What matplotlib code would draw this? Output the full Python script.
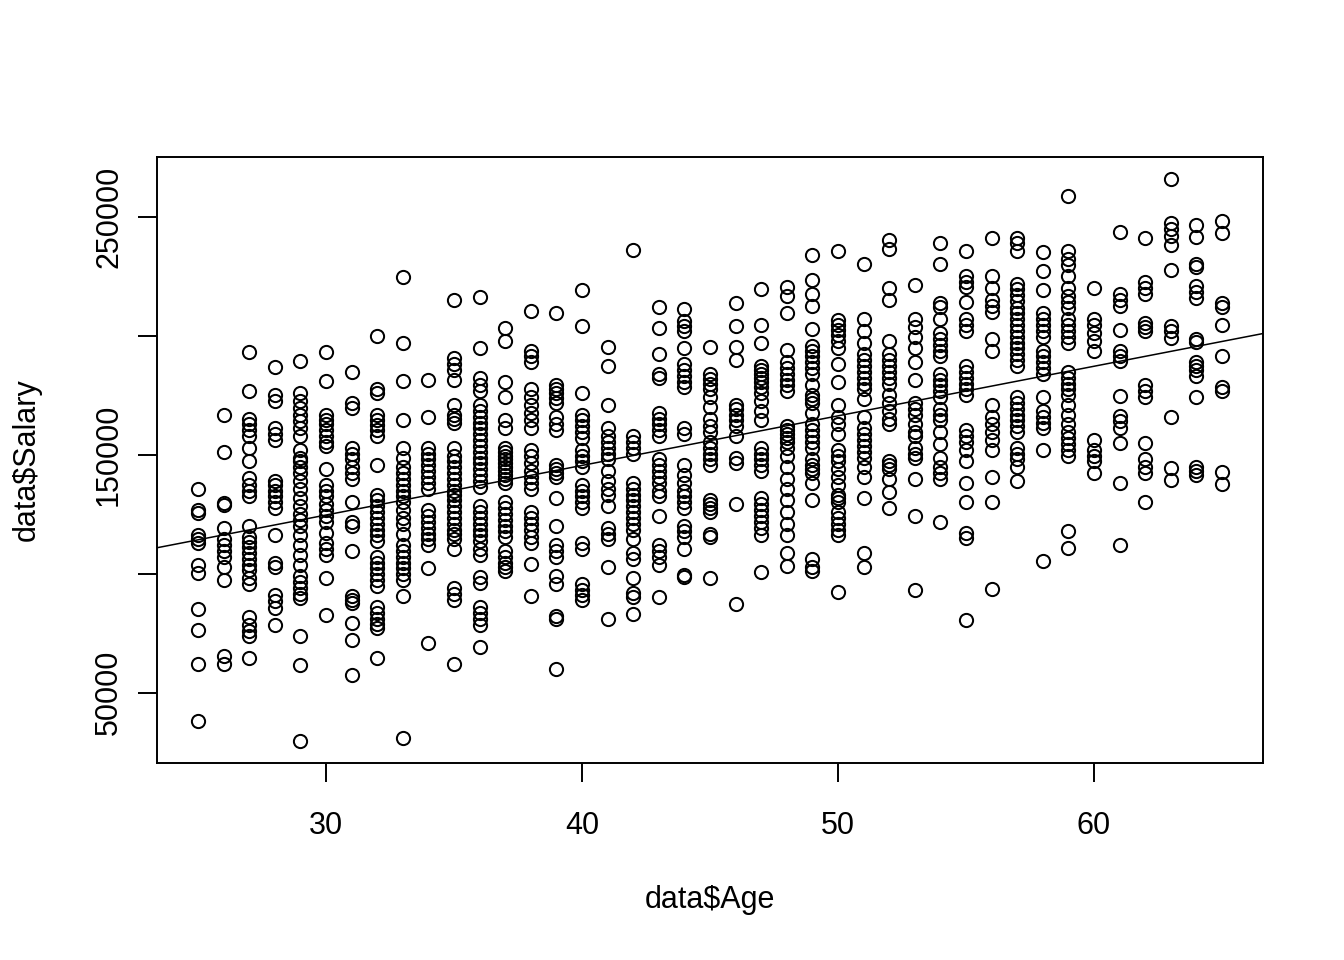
import numpy as np
import matplotlib.pyplot as plt

plt.rcParams['font.family'] = ['Liberation Sans', 'DejaVu Sans']

# salary values (in thousands), one list per age
sal_25 = [135.7, 126.8, 125.5, 116.1, 114.5, 112.9, 103.5, 100.3, 85.0, 76.5, 62.0, 38.0]
sal_26 = [166.9, 151.4, 129.7, 128.9, 119.4, 114.5, 112.0, 109.6, 107.1, 103.0, 97.5, 65.5, 62.0]
sal_27 = [193.5, 176.7, 165.3, 162.8, 160.4, 157.9, 153.0, 147.3, 140.2, 137.4, 135.0, 132.5,
          120.2, 115.3, 113.3, 111.2, 108.8, 106.3, 103.8, 101.4, 98.1, 95.7, 81.8, 78.4, 76.0,
          73.8, 64.5]
sal_28 = [187.0, 175.1, 172.6, 161.2, 158.7, 156.3, 139.1, 137.4, 135.0, 132.5, 130.1, 127.6,
          116.1, 104.7, 103.0, 91.0, 88.5, 85.5, 78.5]
sal_29 = [189.3, 175.9, 172.6, 169.7, 166.9, 164.1, 161.2, 157.9, 152.2, 148.9, 147.3, 144.8,
          142.3, 139.1, 135.8, 131.7, 128.4, 125.1, 122.7, 120.2, 116.1, 112.0, 107.9, 103.8,
          98.9, 96.5, 94.0, 91.6, 89.9, 73.8, 61.6, 29.8]
sal_30 = [193.5, 181.2, 166.9, 164.8, 162.8, 160.4, 157.9, 155.4, 153.8, 144.0, 137.4, 135.0,
          132.5, 129.2, 126.8, 124.3, 121.9, 117.0, 112.9, 110.4, 107.9, 98.2, 82.6]
sal_31 = [185.0, 171.8, 169.7, 153.0, 150.5, 148.1, 144.8, 142.3, 139.9, 130.1, 121.9, 120.2,
          109.6, 90.5, 89.0, 87.5, 79.3, 72.1, 57.4]
sal_32 = [200.0, 177.6, 175.9, 166.9, 164.8, 162.5, 160.4, 157.9, 145.6, 133.3, 130.9, 128.4,
          126.0, 123.5, 121.0, 118.6, 116.1, 113.7, 107.1, 104.7, 102.2, 99.8, 97.3, 94.9, 86.0,
          83.5, 81.0, 79.0, 77.0, 64.5]
sal_33 = [225.0, 197.0, 181.0, 164.5, 153.0, 148.9, 144.8, 142.3, 139.9, 137.4, 135.0, 132.5,
          130.1, 126.8, 123.5, 121.0, 116.9, 112.0, 109.6, 107.1, 104.7, 102.2, 99.8, 97.3, 90.6,
          31.0]
sal_34 = [181.5, 165.8, 153.0, 150.5, 148.1, 145.6, 143.2, 140.7, 138.2, 135.8, 126.8, 124.3,
          121.9, 119.4, 116.9, 114.5, 112.0, 102.4, 70.8]
sal_35 = [215.0, 190.7, 188.2, 185.8, 181.7, 171.0, 166.9, 165.3, 163.6, 153.0, 149.7, 147.3,
          144.8, 142.3, 139.9, 137.4, 135.0, 133.3, 130.9, 128.4, 126.0, 123.5, 121.0, 118.6,
          116.9, 114.5, 110.4, 94.0, 91.5, 89.0, 62.0]
sal_36 = [216.5, 194.8, 182.5, 179.5, 176.7, 171.0, 168.5, 166.1, 163.6, 161.2, 158.7, 156.3,
          153.8, 151.4, 148.9, 146.4, 144.0, 141.5, 139.1, 136.6, 128.4, 126.0, 123.5, 121.0,
          118.6, 116.1, 113.7, 110.4, 107.9, 98.5, 96.0, 86.0, 83.5, 81.0, 78.5, 69.2]
sal_37 = [203.5, 198.0, 180.8, 174.3, 164.5, 161.2, 153.0, 151.4, 149.7, 148.1, 146.4, 144.8,
          143.2, 141.5, 139.9, 138.2, 130.1, 127.6, 125.1, 122.7, 120.2, 117.8, 115.3, 109.6,
          107.1, 104.7, 103.0, 101.0]
sal_38 = [210.6, 193.9, 191.5, 189.0, 177.6, 174.3, 171.0, 167.7, 164.8, 161.5, 152.2, 149.7,
          146.4, 143.2, 140.7, 138.2, 135.8, 126.0, 123.5, 121.0, 118.6, 115.3, 112.9, 104.0, 90.6]
sal_39 = [209.8, 179.5, 177.6, 175.9, 174.0, 171.8, 166.1, 162.8, 160.4, 145.6, 144.0, 142.3,
          140.7, 131.7, 120.2, 112.0, 109.6, 107.1, 99.0, 95.5, 82.3, 81.0, 59.9]
sal_40 = [219.5, 204.3, 176.2, 166.9, 164.5, 162.0, 159.5, 157.1, 152.2, 149.7, 147.3, 144.8,
          137.4, 135.0, 132.5, 130.1, 127.6, 112.9, 110.4, 95.5, 93.0, 91.0, 89.0]
sal_41 = [195.5, 187.4, 171.0, 161.2, 157.9, 155.4, 153.0, 150.5, 148.1, 143.2, 139.1, 135.8,
          133.3, 128.4, 119.4, 116.9, 114.5, 103.0, 81.0]
sal_42 = [236.3, 157.9, 155.4, 153.0, 150.5, 138.2, 135.8, 133.3, 130.9, 128.4, 126.0, 123.5,
          121.0, 118.6, 114.5, 108.8, 106.3, 98.1, 92.0, 90.0, 83.0]
sal_43 = [212.3, 203.3, 192.3, 184.1, 182.5, 167.7, 165.3, 162.8, 160.4, 157.9, 148.1, 145.6,
          143.2, 140.7, 138.2, 135.0, 132.5, 124.3, 112.0, 109.6, 107.1, 103.8, 90.3]
sal_44 = [211.5, 206.5, 204.1, 202.1, 194.8, 188.2, 185.8, 183.3, 180.8, 178.4, 161.2, 158.7,
          145.6, 141.5, 138.2, 135.0, 132.5, 130.1, 127.6, 120.2, 117.8, 115.3, 110.4, 99.5, 98.5]
sal_45 = [195.5, 184.1, 182.1, 180.0, 177.6, 174.3, 170.2, 165.3, 162.0, 159.5, 155.4, 153.0,
          150.5, 148.1, 145.6, 130.9, 129.2, 127.6, 126.0, 116.9, 115.3, 98.2]
sal_46 = [214.0, 204.1, 195.6, 189.8, 171.0, 169.4, 166.9, 164.5, 162.0, 157.9, 148.9, 146.4,
          129.2, 87.3]
sal_47 = [220.0, 204.6, 197.2, 187.4, 185.8, 184.1, 182.5, 180.8, 178.4, 175.9, 172.6, 168.5,
          164.5, 153.0, 150.5, 148.1, 145.6, 143.2, 131.7, 129.2, 126.8, 124.3, 121.9, 119.4,
          116.1, 100.7]
sal_48 = [220.7, 216.9, 209.5, 194.3, 189.0, 186.6, 184.1, 181.7, 179.2, 176.7, 162.0, 160.4,
          158.7, 157.1, 155.4, 153.0, 149.7, 144.8, 139.9, 135.8, 130.9, 126.0, 121.0, 116.1,
          108.8, 103.3]
sal_49 = [234.2, 223.4, 217.7, 212.8, 202.9, 195.9, 193.9, 191.5, 189.0, 186.6, 184.1, 179.2,
          175.1, 173.5, 171.8, 167.7, 162.8, 160.4, 157.9, 155.4, 153.0, 148.1, 145.6, 144.0,
          142.3, 138.2, 130.9, 106.0, 103.0, 101.0]
sal_50 = [235.9, 206.6, 204.6, 202.5, 200.5, 198.0, 194.8, 188.2, 180.8, 171.0, 166.1, 162.8,
          158.7, 152.2, 149.7, 147.3, 144.0, 140.7, 137.4, 133.3, 131.7, 130.1, 126.0, 123.5,
          121.0, 118.6, 116.1, 92.3]
sal_51 = [230.4, 207.0, 202.1, 197.2, 192.3, 189.8, 187.4, 184.9, 182.5, 180.0, 177.6, 173.5,
          166.1, 161.2, 158.7, 156.3, 153.8, 151.4, 148.9, 144.8, 140.7, 131.7, 108.7, 102.8]
sal_52 = [240.6, 236.5, 220.1, 215.2, 198.0, 192.3, 189.8, 187.4, 184.9, 182.5, 180.0, 175.1,
          171.8, 168.5, 165.3, 162.8, 147.3, 145.6, 144.0, 139.9, 134.2, 127.7]
sal_53 = [221.6, 207.0, 203.8, 199.7, 194.8, 189.0, 181.7, 171.8, 169.4, 166.9, 162.8, 159.5,
          157.9, 153.0, 150.5, 148.9, 139.9, 124.3, 93.2]
sal_54 = [239.3, 230.3, 213.9, 212.3, 207.0, 201.3, 198.9, 196.4, 193.9, 191.5, 184.1, 181.7,
          179.2, 176.7, 174.3, 169.4, 166.9, 164.5, 159.5, 154.6, 148.9, 144.8, 142.3, 139.9,
          121.8]
sal_55 = [236.0, 225.4, 222.6, 220.5, 214.4, 207.0, 204.6, 202.1, 187.4, 184.9, 182.5, 180.0,
          177.6, 175.1, 160.4, 157.9, 155.4, 152.2, 147.3, 138.2, 130.1, 117.0, 115.0, 80.5]
sal_56 = [241.4, 225.1, 220.1, 215.2, 212.8, 210.3, 198.9, 193.9, 171.0, 166.1, 162.8, 159.5,
          156.3, 152.2, 140.7, 130.1, 93.6]
sal_57 = [241.4, 239.0, 235.7, 222.1, 219.7, 217.2, 214.7, 212.0, 209.5, 207.0, 204.6, 202.1,
          199.7, 197.2, 194.8, 192.3, 189.8, 187.4, 174.3, 171.8, 169.4, 166.9, 164.5, 162.0,
          159.5, 153.0, 150.5, 148.1, 144.8, 139.1]
sal_58 = [235.2, 227.5, 219.3, 209.5, 207.0, 204.6, 202.1, 199.7, 193.9, 191.5, 189.0, 186.6,
          184.1, 174.3, 168.5, 166.1, 163.6, 161.2, 152.2, 105.5]
sal_59 = [259.0, 235.7, 232.4, 230.0, 225.1, 220.1, 216.9, 214.4, 212.0, 207.0, 204.6, 202.1,
          199.7, 197.2, 184.9, 182.5, 180.0, 177.6, 175.1, 171.0, 166.9, 162.8, 159.5, 157.1,
          154.6, 152.2, 149.7, 117.8, 111.0]
sal_60 = [220.1, 207.0, 204.6, 201.3, 198.0, 193.9, 156.3, 152.2, 149.7, 147.3, 142.3]
sal_61 = [243.9, 217.7, 215.2, 212.8, 202.5, 193.9, 191.5, 189.4, 174.6, 166.4, 164.1, 161.5,
          155.0, 138.2, 112.0]
sal_62 = [241.4, 222.6, 220.1, 217.7, 205.4, 203.8, 202.1, 179.5, 176.7, 174.3, 155.0, 148.1,
          144.8, 142.3, 130.0]
sal_63 = [265.9, 247.7, 245.0, 242.3, 238.2, 228.0, 204.1, 202.1, 199.2, 166.1, 144.5, 139.5]
sal_64 = [246.7, 241.8, 230.3, 229.2, 221.0, 218.5, 216.0, 198.9, 197.5, 189.0, 187.4, 185.8,
          183.3, 174.3, 145.1, 143.2, 141.5]
sal_65 = [248.3, 243.4, 213.9, 212.3, 204.5, 191.5, 178.4, 176.8, 142.7, 137.9]

ages = np.arange(25, 66)
columns = [sal_25, sal_26, sal_27, sal_28, sal_29, sal_30, sal_31, sal_32, sal_33, sal_34,
           sal_35, sal_36, sal_37, sal_38, sal_39, sal_40, sal_41, sal_42, sal_43, sal_44,
           sal_45, sal_46, sal_47, sal_48, sal_49, sal_50, sal_51, sal_52, sal_53, sal_54,
           sal_55, sal_56, sal_57, sal_58, sal_59, sal_60, sal_61, sal_62, sal_63, sal_64,
           sal_65]

age = np.concatenate([[a] * len(c) for a, c in zip(ages, columns)])
salary = np.concatenate(columns) * 1000

fig = plt.figure(figsize=(13.44, 9.6), dpi=100)
ax = fig.add_axes([157 / 1344, 1 - 763 / 960, (1263 - 157) / 1344, (763 - 157) / 960])

ax.plot(age, salary, 'o', mfc='none', mec='black', ms=9.5, mew=1.45)

# abline(lm(Salary ~ Age))
slope, intercept = np.polyfit(age, salary, 1)
ax.axline((0, intercept), slope=slope, color='black', lw=1.1)

# R default: data range plus 4% each side
xr = age.max() - age.min()
yr = salary.max() - salary.min()
ax.set_xlim(age.min() - 0.04 * xr, age.max() + 0.04 * xr)
ax.set_ylim(salary.min() - 0.04 * yr, salary.max() + 0.04 * yr)

ax.set_xticks([30, 40, 50, 60])
ax.set_yticks([50000, 100000, 150000, 200000, 250000])
ax.set_yticklabels(['50000', '', '150000', '', '250000'])
ax.tick_params(direction='out', length=13.7, width=1.4, labelsize=22, color='black')
ax.tick_params(axis='x', pad=21)
ax.tick_params(axis='y', pad=10)
plt.setp(ax.get_yticklabels(), rotation=90, va='center')
for s in ax.spines.values():
    s.set_linewidth(1.4)

fig.text(710 / 1344, 1 - 900 / 960, 'data$Age', ha='center', va='center', fontsize=22)
fig.text(27 / 1344, 1 - 460 / 960, 'data$Salary', ha='center', va='center',
         rotation=90, fontsize=22)

fig.savefig('out.png', dpi=100, facecolor='white')
